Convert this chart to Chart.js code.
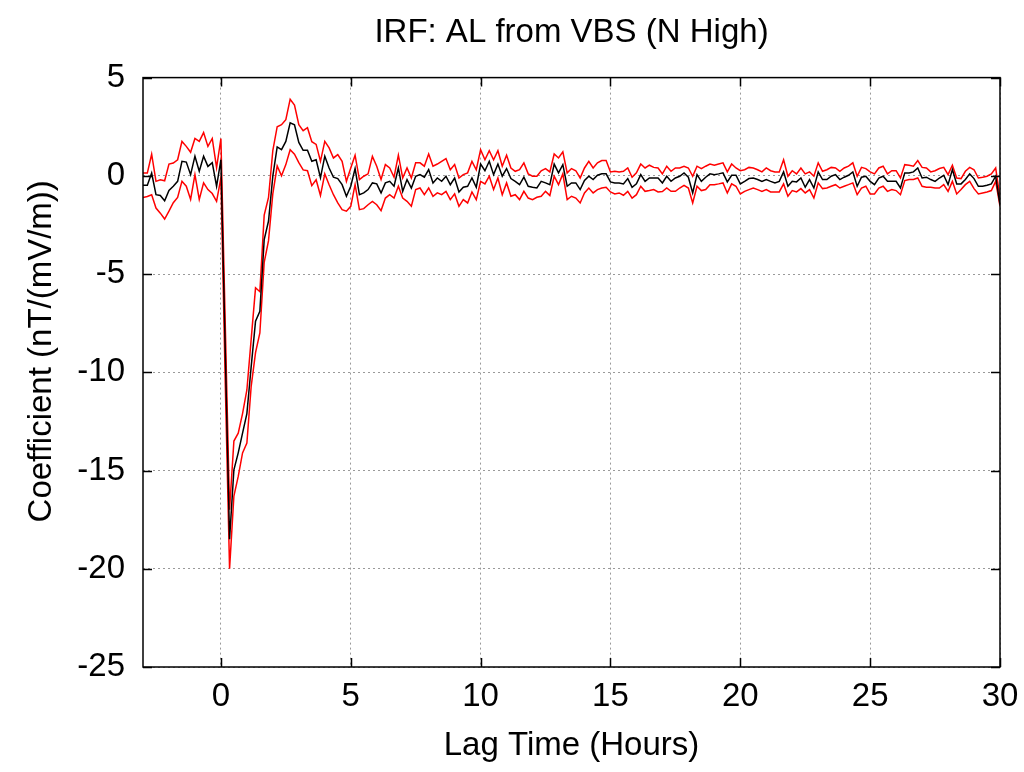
<!DOCTYPE html>
<html>
<head>
<meta charset="utf-8">
<title>IRF: AL from VBS (N High)</title>
<script src="https://cdn.jsdelivr.net/npm/chart.js@4.4.1/dist/chart.umd.min.js"></script>
<style>
  html, body { margin: 0; padding: 0; background: #fff; }
  #wrap { width: 1024px; height: 772px; }
</style>
</head>
<body>
<div id="wrap"><canvas id="myChart" width="1024" height="772"></canvas></div>
<script>
// lag axis: samples every 10 minutes from -3 h to +30 h
const LAG_START = -3;
const LAG_STEP = 1 / 6;

// one row per hour of lag (6 samples), last value is lag = 30 h
const coefMean = [
    -0.48, -0.48, 0.14, -0.96, -1.0, -1.27,
    -0.74, -0.53, -0.28, 0.74, 0.7, 0.06,
    1.0, 0.23, 1.0, 0.48, 0.67, -0.53,
    0.82, -8.9, -18.5, -14.96, -14.1, -13.1,
    -12.1, -9.7, -7.4, -6.9, -3.25, -2.3,
    0.0, 1.47, 1.33, 1.75, 2.7, 2.6,
    1.7, 1.3, 1.3, 0.74, 0.82, -0.1,
    1.0, 0.4, -0.07, -0.14, -0.45, -1.04,
    -0.53, 0.37, -0.96, -0.87, -0.7, -0.36,
    -0.41, -0.87, -0.36, -0.28, -0.53, 0.4,
    -0.79, -0.19, -0.62, -0.02, 0.06, -0.07,
    0.32, -0.36, -0.11, -0.28, -0.02, -0.45,
    -0.11, -0.82, -0.58, -0.53, -0.11, -0.58,
    0.6, 0.26, 0.74, 0.06, 0.6, -0.02,
    0.37, -0.14, -0.28, -0.45, -0.07, -0.53,
    -0.58, -0.62, -0.28, -0.36, -0.45, 0.6,
    0.15, 0.57, -0.53, -0.36, -0.36, -0.7,
    -0.24, -0.02, -0.19, 0.03, 0.1, 0.1,
    -0.31, -0.36, -0.36, -0.41, -0.14, -0.58,
    -0.41, 0.06, -0.28, -0.11, -0.11, -0.11,
    -0.36, -0.02, -0.28, -0.11, -0.02, 0.15,
    -0.07, -0.87, 0.06, -0.28, -0.07, 0.1,
    0.06, 0.1, 0.15, -0.31, 0.03, 0.03,
    -0.41, -0.28, -0.14, -0.11, -0.19, -0.28,
    -0.19, -0.28, -0.36, -0.28, 0.2, -0.53,
    -0.28, -0.31, -0.11, -0.58, -0.19, -0.62,
    0.2, -0.19, -0.19, -0.02, 0.06, -0.19,
    -0.07, 0.03, 0.2, -0.53, -0.07, -0.02,
    -0.28, -0.45, -0.11, -0.02, -0.28, -0.28,
    -0.28, -0.62, 0.15, 0.15, 0.2, 0.4,
    -0.11, -0.07, -0.19, -0.28, -0.11, 0.03,
    -0.45, 0.32, -0.41, -0.41, -0.19, 0.1,
    -0.14, -0.53, -0.53, -0.48, -0.41, -0.02,
    -1.47
];

const coefUpper = [
    0.14, 0.14, 1.1, -0.28, -0.2, -0.25,
    0.6, 0.65, 0.82, 1.75, 1.5, 1.2,
    1.9, 1.75, 2.2, 1.5, 1.9, 0.42,
    1.9, -7.5, -17.0, -13.5, -13.1, -12.1,
    -10.9, -8.3, -5.7, -5.9, -2.0, -1.1,
    1.3, 2.5, 2.6, 2.86, 3.9, 3.6,
    2.6, 2.3, 2.45, 1.74, 1.6, 0.74,
    1.75, 1.42, 0.91, 1.08, 0.74, -0.28,
    0.4, 1.05, -0.19, -0.02, 0.1, 0.99,
    0.49, -0.19, 0.57, 0.4, -0.07, 1.05,
    -0.11, 0.4, -0.11, 0.66, 0.66, 0.49,
    1.11, 0.49, 0.6, 0.74, 0.88, 0.31,
    0.57, -0.11, 0.06, 0.15, 0.74, 0.31,
    1.33, 0.82, 1.28, 0.82, 1.28, 0.49,
    1.05, 0.4, 0.23, 0.31, 0.66, 0.1,
    -0.02, -0.02, 0.26, 0.37, 0.2, 1.11,
    0.91, 1.22, 0.15, 0.37, 0.26, -0.11,
    0.4, 0.74, 0.4, 0.66, 0.78, 0.78,
    0.2, 0.23, 0.2, 0.23, 0.4, -0.07,
    0.15, 0.6, 0.4, 0.54, 0.43, 0.4,
    0.1, 0.49, 0.23, 0.4, 0.4, 0.49,
    0.4, -0.02, 0.49, 0.37, 0.49, 0.6,
    0.54, 0.6, 0.66, 0.2, 0.6, 0.4,
    0.26, 0.31, 0.43, 0.4, 0.31, 0.2,
    0.4, 0.26, 0.2, 0.2, 0.82, -0.02,
    0.26, 0.1, 0.4, 0.1, 0.2, -0.02,
    0.66, 0.23, 0.31, 0.43, 0.4, 0.23,
    0.4, 0.49, 0.66, -0.02, 0.43, 0.37,
    0.2, 0.1, 0.4, 0.49, 0.1, 0.26,
    0.26, -0.11, 0.57, 0.54, 0.49, 0.78,
    0.43, 0.4, 0.2, 0.26, 0.37, 0.43,
    0.06, 0.54, -0.11, -0.14, 0.23, 0.43,
    0.31, -0.11, -0.07, -0.02, 0.1, 0.4,
    -1.13
];

const coefLower = [
    -1.1, -1.05, -0.96, -1.64, -1.9, -2.2,
    -1.8, -1.37, -1.1, -0.28, -0.53, -1.2,
    0.06, -1.2, -0.36, -0.7, -0.9, -1.3,
    -0.1, -10.5, -20.0, -16.3, -15.3, -14.1,
    -13.6, -10.7, -9.0, -8.0, -4.4, -3.3,
    -0.9, 0.5, 0.0, 0.57, 1.33, 1.1,
    0.67, 0.3, 0.26, -0.5, -0.2, -1.0,
    0.1, -0.45, -0.96, -1.38, -1.72, -1.8,
    -1.55, -0.45, -1.72, -1.67, -1.47, -1.3,
    -1.47, -1.77, -1.13, -0.96, -1.13, -0.53,
    -1.13, -1.3, -1.55, -0.7, -0.62, -0.96,
    -0.62, -1.04, -0.87, -0.96, -0.79, -1.21,
    -0.92, -1.55, -1.21, -1.38, -0.82, -1.21,
    -0.28, -0.41, -0.02, -0.7, -0.11, -0.96,
    -0.36, -1.04, -0.96, -1.21, -0.79, -1.13,
    -1.21, -1.09, -1.04, -0.79, -1.0, -0.02,
    -0.45, 0.1, -1.21, -1.04, -1.13, -1.38,
    -0.87, -0.62, -0.87, -0.7, -0.62, -0.58,
    -0.82, -0.92, -0.87, -0.99, -0.79, -1.13,
    -0.96, -0.53, -0.79, -0.75, -0.7, -0.82,
    -0.8, -0.62, -0.79, -0.79, -0.62, -0.48,
    -0.62, -1.38, -0.53, -0.75, -0.7, -0.45,
    -0.45, -0.41, -0.36, -0.87, -0.41, -0.53,
    -0.92, -0.79, -0.7, -0.62, -0.7, -0.79,
    -0.7, -0.82, -0.82, -0.82, -0.41, -1.04,
    -0.75, -0.82, -0.65, -0.87, -0.7, -1.13,
    -0.36, -0.65, -0.62, -0.53, -0.45, -0.62,
    -0.53, -0.45, -0.36, -0.96, -0.62, -0.53,
    -0.92, -0.92, -0.62, -0.53, -0.79, -0.7,
    -0.75, -0.96, -0.24, -0.19, -0.19, -0.11,
    -0.53, -0.58, -0.58, -0.62, -0.62, -0.45,
    -0.79, -0.28, -0.92, -0.7, -0.45, -0.28,
    -0.65, -0.92, -0.87, -0.82, -0.75, -0.28,
    -1.55
];

const xTicks = [0, 5, 10, 15, 20, 25, 30];
const yTicks = [-25, -20, -15, -10, -5, 0, 5];
const yTitle = 'Coefficient (nT/(mV/m))';

const FONT = "'Liberation Sans', Arial, sans-serif";
const FONT_SIZE = 33;

// pair each value with its lag time
function toPoints(values) {
    return values.map((v, i) => ({ x: LAG_START + i * LAG_STEP, y: v }));
}

// gnuplot style frame: full border, inward tick marks, y label a bit above centre
const framePlugin = {
    id: 'frame',
    afterDatasetsDraw(chart) {
        const { ctx, chartArea: a, scales } = chart;
        const len = 9;
        ctx.save();
        ctx.strokeStyle = '#000';
        ctx.lineWidth = 1.5;
        ctx.beginPath();
        xTicks.forEach(t => {
            const px = Math.round(scales.x.getPixelForValue(t)) + 0.5;
            ctx.moveTo(px, a.bottom); ctx.lineTo(px, a.bottom - len);
            ctx.moveTo(px, a.top); ctx.lineTo(px, a.top + len);
        });
        yTicks.forEach(t => {
            const py = Math.round(scales.y.getPixelForValue(t)) + 0.5;
            ctx.moveTo(a.left, py); ctx.lineTo(a.left + len, py);
            ctx.moveTo(a.right, py); ctx.lineTo(a.right - len, py);
        });
        ctx.stroke();
        ctx.strokeRect(a.left, a.top, a.right - a.left, a.bottom - a.top);

        ctx.translate(42, (a.top + a.bottom) / 2 - 21);
        ctx.rotate(-Math.PI / 2);
        ctx.fillStyle = '#000';
        ctx.font = FONT_SIZE + 'px ' + FONT;
        ctx.textAlign = 'center';
        ctx.textBaseline = 'middle';
        ctx.fillText(yTitle, 0, 0);
        ctx.restore();
    }
};

const ctx = document.getElementById('myChart').getContext('2d');
const chartInstance = new Chart(ctx, {
    type: 'line',
    data: {
        datasets: [
            {
                label: 'mean',
                data: toPoints(coefMean),
                borderColor: '#000000',
                borderWidth: 1.5,
                pointRadius: 0,
                tension: 0,
                order: 0
            },
            {
                label: 'upper',
                data: toPoints(coefUpper),
                borderColor: '#ff0000',
                borderWidth: 1.5,
                pointRadius: 0,
                tension: 0,
                order: 1
            },
            {
                label: 'lower',
                data: toPoints(coefLower),
                borderColor: '#ff0000',
                borderWidth: 1.5,
                pointRadius: 0,
                tension: 0,
                order: 2
            }
        ]
    },
    options: {
        responsive: false,
        animation: false,
        events: [],
        layout: { padding: { left: 0, right: 24, top: 0, bottom: 0 } },
        plugins: {
            legend: { display: false },
            tooltip: { enabled: false },
            title: {
                display: true,
                text: 'IRF: AL from VBS (N High)',
                fullSize: false,
                color: '#000',
                font: { family: FONT, size: FONT_SIZE, weight: 'normal' },
                padding: { top: 13, bottom: 25 }
            }
        },
        scales: {
            x: {
                type: 'linear',
                min: -3,
                max: 30,
                afterFit(scale) {
                    scale.height = 105;
                    scale.paddingLeft = 0;
                    scale.paddingRight = 0;
                },
                afterBuildTicks(scale) { scale.ticks = xTicks.map(v => ({ value: v })); },
                grid: { color: '#9a9a9a', lineWidth: 1, drawTicks: false },
                border: { display: false, dash: [2, 3] },
                ticks: { color: '#000', padding: 10, font: { family: FONT, size: FONT_SIZE } },
                title: {
                    display: true,
                    text: 'Lag Time (Hours)',
                    color: '#000',
                    font: { family: FONT, size: FONT_SIZE },
                    padding: { top: 0, bottom: 6 }
                }
            },
            y: {
                min: -25,
                max: 5,
                afterFit(scale) {
                    scale.width = 143;
                    scale.paddingTop = 0;
                    scale.paddingBottom = 0;
                },
                afterBuildTicks(scale) { scale.ticks = yTicks.map(v => ({ value: v })); },
                grid: { color: '#9a9a9a', lineWidth: 1, drawTicks: false },
                border: { display: false, dash: [2, 3] },
                ticks: { color: '#000', padding: 18, font: { family: FONT, size: FONT_SIZE } },
                title: { display: false, text: yTitle }
            }
        }
    },
    plugins: [framePlugin]
});
</script>
</body>
</html>
